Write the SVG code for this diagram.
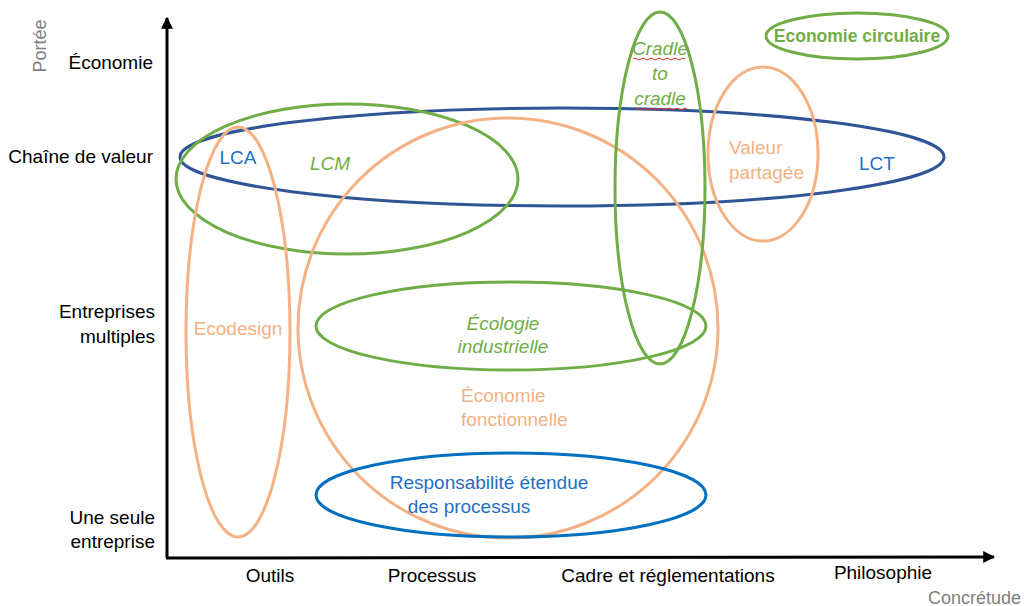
<svg xmlns="http://www.w3.org/2000/svg" width="1027" height="606" viewBox="0 0 1027 606">
<defs>
<marker id="ah" viewBox="0 0 10 10" refX="9" refY="5" markerWidth="4" markerHeight="4" markerUnits="strokeWidth" orient="auto"><path d="M0,0 L10,5 L0,10 z" fill="#000"/></marker>
<style>
text{font-family:"Liberation Sans",Arial,sans-serif;font-size:19px}
.ax{fill:#000}
.axr{text-anchor:end}
.mid{text-anchor:middle}
.gray{fill:#7f7f7f;font-size:18px}
.e{fill:none;stroke-width:3}
.or{stroke:#f4b183}.gr{stroke:#70ad47}.db{stroke:#2f5597}.bl{stroke:#0070c0}
.tor{fill:#f4b183}.tgr{fill:#70ad47}.tbl{fill:#1f6fc0}
.it{font-style:italic}
.bold{font-weight:bold;font-size:17.5px}
.sq{fill:none;stroke:#e03030;stroke-width:1}
</style>
</defs>
<rect width="1027" height="606" fill="#fff"/>
<g id="axes">
<line x1="167" y1="558" x2="167" y2="18" stroke="#000" stroke-width="3" marker-end="url(#ah)"/>
<line x1="166" y1="558" x2="994" y2="557" stroke="#000" stroke-width="3" marker-end="url(#ah)"/>
<text class="ax axr" x="153" y="69">Économie</text>
<text class="ax axr" x="153" y="163">Chaîne de valeur</text>
<text class="ax axr" x="155" y="318">Entreprises</text>
<text class="ax axr" x="155" y="343">multiples</text>
<text class="ax axr" x="155" y="524">Une seule</text>
<text class="ax axr" x="155" y="548">entreprise</text>
<text class="gray mid" transform="translate(46,46) rotate(-90)">Portée</text>
<text class="ax mid" x="270" y="582">Outils</text>
<text class="ax mid" x="432" y="582">Processus</text>
<text class="ax mid" x="668" y="582">Cadre et réglementations</text>
<text class="ax mid" x="883" y="579">Philosophie</text>
<text class="gray" x="1021" y="604" text-anchor="end">Concrétude</text>
</g>
<g id="connectors"></g>
<g id="lct"><ellipse class="e db" cx="562" cy="157" rx="382" ry="49"/><text class="tbl mid" x="877" y="170">LCT</text></g>
<g id="lcm"><ellipse class="e gr" cx="347" cy="179" rx="171" ry="75"/><text class="tgr it mid" x="330" y="170">LCM</text></g>
<g id="lca"><text class="tbl mid" x="238" y="164">LCA</text></g>
<g id="ecodesign"><ellipse class="e or" cx="238" cy="332" rx="52" ry="205"/><text class="tor mid" x="238" y="335">Ecodesign</text></g>
<g id="eco-fonc"><circle class="e or" cx="508" cy="328" r="210"/><text class="tor" x="461" y="402">Économie</text><text class="tor" x="461" y="426">fonctionnelle</text></g>
<g id="eco-ind"><ellipse class="e gr" cx="511" cy="326" rx="195" ry="44"/><text class="tgr it mid" x="503" y="330">Écologie</text><text class="tgr it mid" x="503" y="353">industrielle</text></g>
<g id="resp"><ellipse class="e bl" cx="511" cy="495" rx="195" ry="42"/><text class="tbl mid" x="489" y="489">Responsabilité étendue</text><text class="tbl mid" x="469" y="513">des processus</text></g>
<g id="c2c"><ellipse class="e gr" cx="660" cy="188" rx="45" ry="176"/>
<text class="tgr it mid" x="660" y="55">Cradle</text><text class="tgr it mid" x="660" y="80">to</text><text class="tgr it mid" x="660" y="105">cradle</text>
<path class="sq" d="M633,59 q2,-2 4,0 t4,0 t4,0 t4,0 t4,0 t4,0 t4,0 t4,0 t4,0 t4,0 t4,0 t4,0 t4,0"/>
<path class="sq" d="M635,109 q2,-2 4,0 t4,0 t4,0 t4,0 t4,0 t4,0 t4,0 t4,0 t4,0 t4,0 t4,0 t4,0 t4,0"/>
</g>
<g id="valeur"><ellipse class="e or" cx="763" cy="154" rx="55" ry="87"/><text class="tor" x="729" y="154">Valeur</text><text class="tor" x="729" y="179">partagée</text></g>
<g id="eco-circ"><ellipse class="e gr" cx="857" cy="36" rx="91" ry="23"/><text class="tgr mid bold" x="857" y="42">Economie circulaire</text></g>
</svg>
